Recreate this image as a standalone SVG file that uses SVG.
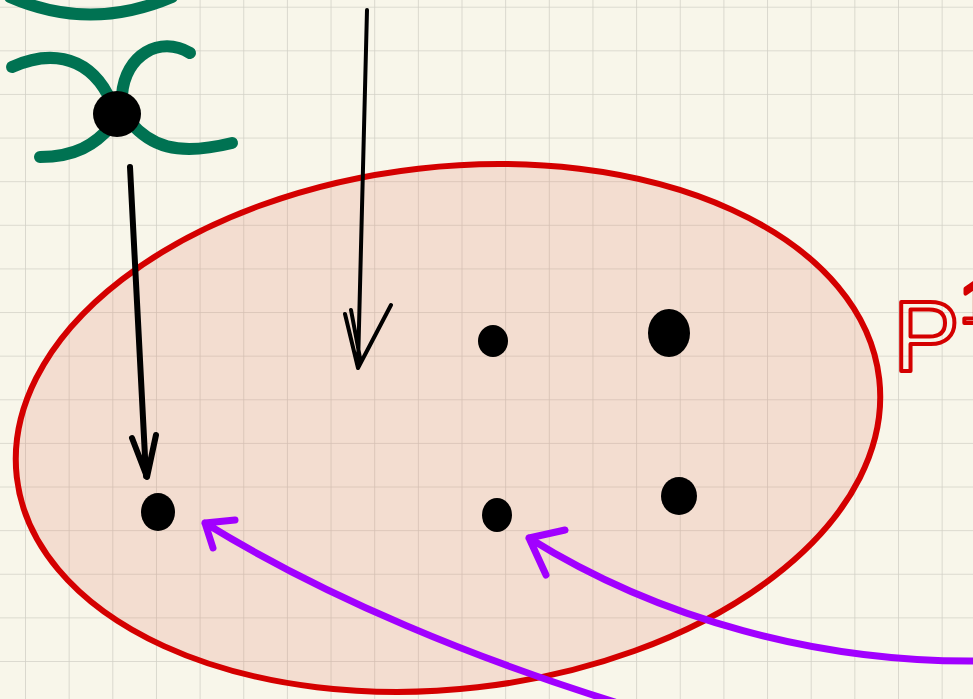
<svg xmlns="http://www.w3.org/2000/svg" width="973" height="699" viewBox="0 0 973 699">
<defs>
<pattern id="grid" patternUnits="userSpaceOnUse" x="25" y="6.7" width="43.65" height="43.62">
<path d="M0 0 H43.65 M0 0 V43.62" fill="none" stroke="#000" stroke-opacity="0.15" stroke-width="1.6"/>
</pattern>
<style>
.green{fill:none;stroke:#007252;stroke-width:12;stroke-linecap:round;stroke-linejoin:round}
.blk{fill:none;stroke:#000;stroke-linecap:round;stroke-linejoin:round}
.pur{fill:none;stroke:#a100ff;stroke-width:7;stroke-linecap:round;stroke-linejoin:round}
.dot{fill:#000}
</style>
</defs>
<rect width="973" height="699" fill="#f8f6ea"/>
<rect width="973" height="699" fill="url(#grid)"/>

<g id="set-P1">
<ellipse cx="448" cy="428" rx="434" ry="261" transform="rotate(-6.5 448 428)" fill="#df7e68" fill-opacity="0.2" stroke="#d40000" stroke-width="6"/>
<text x="893" y="371" font-family="Liberation Sans, Arial, sans-serif" font-size="100" fill="none" stroke="#d40000" stroke-width="4" stroke-linejoin="round">P<tspan font-size="60" dy="-48">1</tspan></text>
</g>

<g id="green-top">
<path class="green" d="M10 -3 Q 90 32 172 -3" stroke-width="8"/>
</g>

<g id="green-node">
<path class="green" d="M12 67 C 45 52 85 52 108 95"/>
<path class="green" d="M190 53 C 160 35 125 55 122 95"/>
<path class="green" d="M40 157 C 75 157 95 145 112 125"/>
<path class="green" d="M130 122 C 150 145 175 157 232 143"/>
<ellipse class="dot" cx="117" cy="114" rx="24" ry="23"/>
</g>

<g id="dot-a"><ellipse class="dot" cx="158" cy="512" rx="17" ry="19"/></g>
<g id="dot-b"><ellipse class="dot" cx="493" cy="341" rx="15" ry="16"/></g>
<g id="dot-c"><ellipse class="dot" cx="669" cy="333" rx="21" ry="24"/></g>
<g id="dot-d"><ellipse class="dot" cx="497" cy="515" rx="15" ry="17"/></g>
<g id="dot-e"><ellipse class="dot" cx="679" cy="496" rx="18" ry="19"/></g>

<g id="connectors">
<path class="blk" stroke-width="6" d="M130 167 L146 476 M132 438 L147 477 L156 435"/>
<path class="blk" stroke-width="4" d="M367 10 L358 366 M345 314 L358 368 L391 305 M351 310 L360 358"/>
<path class="pur" d="M615 702 C 480 660 330 600 205 523 M235 520 L205 523 L213 548"/>
<path class="pur" d="M975 661 C 820 662 660 620 529 538 M565 530 L529 538 L546 575"/>
</g>
</svg>
